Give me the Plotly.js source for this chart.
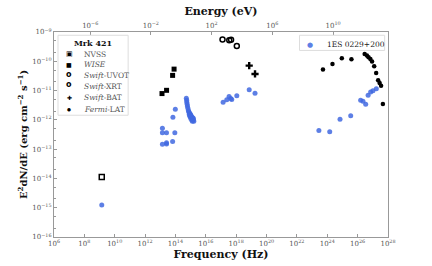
<!DOCTYPE html>
<html><head><meta charset="utf-8">
<script src="https://cdn.plot.ly/plotly-3.0.1.min.js"></script>
<style>html,body{margin:0;padding:0;background:#fff}#c{width:432px;height:266px}</style>
</head><body><div id="c"></div>
<script>
// Mrk 421 (black)
const nvssNu = [1.4e9];
const nvssMrk = [1.12e-14];
const wiseNuMrk = [8.1e13, 6.5e13, 2.6e13, 1.3e13];
const wiseMrk = [5.4e-11, 3.3e-11, 1.02e-11, 7.9e-12];
const xrtNuMrk = [1.26e17, 3.5e17, 4.6e17, 1.1e18];
const xrtMrk = [5.5e-10, 5.2e-10, 5.4e-10, 3.3e-10];
const batNuMrk = [7.2e18, 1.74e19];
const batMrk = [7.1e-11, 3.7e-11];
const latNuMrk = [5.2e23, 2.2e24, 9.1e24, 3.9e25, 2.9e26, 4.1e26, 5.2e26, 6.9e26, 8.9e26, 1.23e27, 1.66e27, 2.24e27, 2.8e27, 3.5e27, 4.6e27];
const latMrk = [5.2e-11, 8.1e-11, 1.26e-10, 1.17e-10, 1.78e-10, 1.58e-10, 1.38e-10, 1.2e-10, 9.8e-11, 6.8e-11, 4.0e-11, 2.24e-11, 1.82e-11, 1.45e-11, 3.5e-12];
// 1ES 0229+200 (blue)
const esNu = [1.4e9,
  9.8e13, 6.8e13, 1.38e13, 1.38e13, 2.57e13, 9.1e13, 1.38e13, 2.57e13, 2.57e13, 6.5e13,
  5.2e14, 5.5e14, 5.6e14, 5.9e14, 6.2e14, 6.6e14, 7.1e14, 7.6e14, 8.1e14, 8.9e14, 9.5e14, 1.02e15, 1.12e15, 1.2e15, 1.29e15, 1.38e15, 1.51e15, 1.62e15, 1.02e15, 1.2e15, 9.5e14, 1.38e15, 8.1e14, 8.9e14, 1.51e15, 1.29e15,
  1.38e17, 2.4e17, 3.4e17, 4.4e17, 5.1e17, 1.1e18, 7.2e18, 1.74e19,
  2.8e23, 1.45e24, 6.9e24, 3.5e25, 1.58e26, 2.24e26, 3.4e26, 4.9e26, 7.2e26, 1.02e27, 1.7e27];
const esFlux = [1.23e-15,
  2.3e-12, 1.23e-12, 5.2e-13, 3.6e-13, 3.6e-13, 3.6e-13, 1.48e-13, 1.51e-13, 1.66e-13, 1.82e-13,
  5.5e-12, 4.7e-12, 4.0e-12, 3.4e-12, 2.9e-12, 2.5e-12, 2.1e-12, 1.9e-12, 1.74e-12, 1.62e-12, 1.55e-12, 1.45e-12, 1.32e-12, 1.23e-12, 1.12e-12, 1.05e-12, 9.8e-13, 8.9e-13, 1.12e-12, 9.8e-13, 1.29e-12, 1.17e-12, 1.51e-12, 1.32e-12, 1.12e-12, 8.9e-13,
  4.0e-12, 4.9e-12, 6.3e-12, 5.4e-12, 5.0e-12, 6.6e-12, 1.07e-11, 8.1e-12,
  4.3e-13, 3.9e-13, 1.05e-12, 1.38e-12, 4.7e-12, 4.3e-12, 3.4e-12, 6.9e-12, 8.9e-12, 9.8e-12, 1.15e-11];
const xTickVals = [1e6,1e8,1e10,1e12,1e14,1e16,1e18,1e20,1e22,1e24,1e26,1e28];
const xTickText = ['10<sup>6</sup>','10<sup>8</sup>','10<sup>10</sup>','10<sup>12</sup>','10<sup>14</sup>','10<sup>16</sup>','10<sup>18</sup>','10<sup>20</sup>','10<sup>22</sup>','10<sup>24</sup>','10<sup>26</sup>','10<sup>28</sup>'];
const yTickVals = [1e-16,1e-15,1e-14,1e-13,1e-12,1e-11,1e-10,1e-9];
const yTickText = ['10<sup>−16</sup>','10<sup>−15</sup>','10<sup>−14</sup>','10<sup>−13</sup>','10<sup>−12</sup>','10<sup>−11</sup>','10<sup>−10</sup>','10<sup>−9</sup>'];
const eTickVals = [1e-6,1e-2,1e2,1e6,1e10];
const eTickText = ['10<sup>−6</sup>','10<sup>−2</sup>','10<sup>2</sup>','10<sup>6</sup>','10<sup>10</sup>'];
const hEv = 4.1357e-15; // Planck constant, eV s
// legend entries
const mrkLabels = ['NVSS', '<i>WISE</i>', '<i>Swift</i>-UVOT', '<i>Swift</i>-XRT', '<i>Swift</i>-BAT', '<i>Fermi</i>-LAT'];
const mrkGlyphs = ['▣', '■', 'o', 'o', '✚', '●'];

const esLabel = '1ES 0229+200';

const serif = 'DejaVu Serif, Liberation Serif, serif';
const blk = '#000';
const blue = 'rgba(65,105,225,0.85)';
const traces = [
  {x: esNu, y: esFlux, name: esLabel, mode: 'markers', showlegend: false,
   marker: {color: blue, size: 5, symbol: 'circle'}},
  {x: nvssNu, y: nvssMrk, name: 'NVSS', mode: 'markers', showlegend: false,
   marker: {color: blk, size: 5, symbol: 'square-open', line: {color: blk, width: 1.5}}},
  {x: wiseNuMrk, y: wiseMrk, name: 'WISE', mode: 'markers', showlegend: false,
   marker: {color: blk, size: 5, symbol: 'square'}},
  {x: xrtNuMrk, y: xrtMrk, name: 'Swift-XRT', mode: 'markers', showlegend: false,
   marker: {color: blk, size: 5, symbol: 'circle-open', line: {color: blk, width: 1.5}}},
  {x: batNuMrk, y: batMrk, name: 'Swift-BAT', mode: 'markers', showlegend: false,
   marker: {color: blk, size: 6, symbol: 'cross'}},
  {x: latNuMrk, y: latMrk, name: 'Fermi-LAT', mode: 'markers', showlegend: false,
   marker: {color: blk, size: 4.5, symbol: 'circle'}},
  {x: [], y: [], xaxis: 'x2', yaxis: 'y', showlegend: false, mode: 'markers'}
];
const axLine = '#999';
// legend layout (paper coords)
const rowY = [0.891, 0.841, 0.787, 0.735, 0.680, 0.624];
const glyphSize = [7, 6, 8, 8, 6, 4.5];
const glyphFont = ['DejaVu Sans', 'DejaVu Sans', 'DejaVu Sans', 'DejaVu Sans', 'DejaVu Sans', 'DejaVu Sans'];
const annotations = [
  {xref: 'paper', yref: 'paper', x: 0.117, y: 0.945, text: '<b>Mrk 421</b>', showarrow: false,
   xanchor: 'center', yanchor: 'middle', font: {family: serif, size: 8, color: '#111'}}
];
mrkLabels.forEach((lab, i) => {
  annotations.push({xref: 'paper', yref: 'paper', x: 0.045, y: rowY[i] + (i === 2 || i === 3 ? 0.008 : 0), text: '<b>' + mrkGlyphs[i] + '</b>', showarrow: false,
    xanchor: 'center', yanchor: 'middle', font: {family: glyphFont[i], size: glyphSize[i], color: blk}});
  annotations.push({xref: 'paper', yref: 'paper', x: 0.085, y: rowY[i], text: lab, showarrow: false,
    xanchor: 'left', yanchor: 'middle', font: {family: serif, size: 7.5, color: '#555'}});
});
annotations.push({xref: 'paper', yref: 'paper', x: 0.766, y: 0.937, text: '●', showarrow: false,
  xanchor: 'center', yanchor: 'middle', font: {family: 'DejaVu Sans', size: 7, color: blue}});
annotations.push({xref: 'paper', yref: 'paper', x: 0.81, y: 0.937, text: esLabel, showarrow: false,
  xanchor: 'left', yanchor: 'middle', font: {family: serif, size: 7.5, color: '#222'}});
const shapes = [
  {type: 'rect', xref: 'paper', yref: 'paper', x0: 0.012, x1: 0.222, y0: 0.594, y1: 0.984,
   line: {color: '#ddd', width: 1}, fillcolor: 'rgba(255,255,255,0.85)', layer: 'above'},
  {type: 'rect', xref: 'paper', yref: 'paper', x0: 0.735, x1: 0.99, y0: 0.91, y1: 0.984,
   line: {color: '#ddd', width: 1}, fillcolor: 'rgba(255,255,255,0.85)', layer: 'above'}
];
const layout = {
  width: 432, height: 266,
  margin: {l: 54, r: 44, t: 32, b: 29},
  paper_bgcolor: '#fff', plot_bgcolor: '#fff',
  font: {family: serif, color: '#444', size: 7},
  showlegend: false,
  annotations: annotations, shapes: shapes,
  xaxis: {type: 'log', range: [6, 28], tickvals: xTickVals, ticktext: xTickText,
    showgrid: false, zeroline: false, showline: true, linecolor: axLine, linewidth: 1,
    ticks: 'inside', ticklen: 3, tickcolor: axLine, tickfont: {size: 7, color: '#555'},
    title: {text: '<b>Frequency (Hz)</b>', font: {size: 11, color: '#111'}, standoff: 1}},
  xaxis2: {type: 'log', overlaying: 'x', side: 'top',
    range: [Math.log10(1e6 * hEv), Math.log10(1e28 * hEv)], tickvals: eTickVals, ticktext: eTickText,
    showgrid: false, zeroline: false, showline: true, linecolor: axLine, linewidth: 1,
    ticks: 'inside', ticklen: 3, tickcolor: axLine, tickfont: {size: 7, color: '#555'},
    title: {text: '<b>Energy (eV)</b>', font: {size: 11, color: '#111'}, standoff: 2}},
  yaxis: {type: 'log', range: [-16, -9], tickvals: yTickVals, ticktext: yTickText,
    showgrid: false, zeroline: false, showline: true, mirror: true, linecolor: axLine, linewidth: 1,
    ticks: 'inside', ticklen: 3, tickcolor: axLine, tickfont: {size: 7, color: '#555'},
    minor: {ticks: 'inside', ticklen: 2, tickcolor: axLine, showgrid: false},
    title: {text: '<b>E<sup>2</sup>dN/dE (erg cm<sup>−2</sup> s<sup>−1</sup>)</b>', font: {size: 10, color: '#111'}, standoff: 2}}
};
Plotly.newPlot('c', traces, layout, {staticPlot: true, displayModeBar: false});
</script></body></html>
